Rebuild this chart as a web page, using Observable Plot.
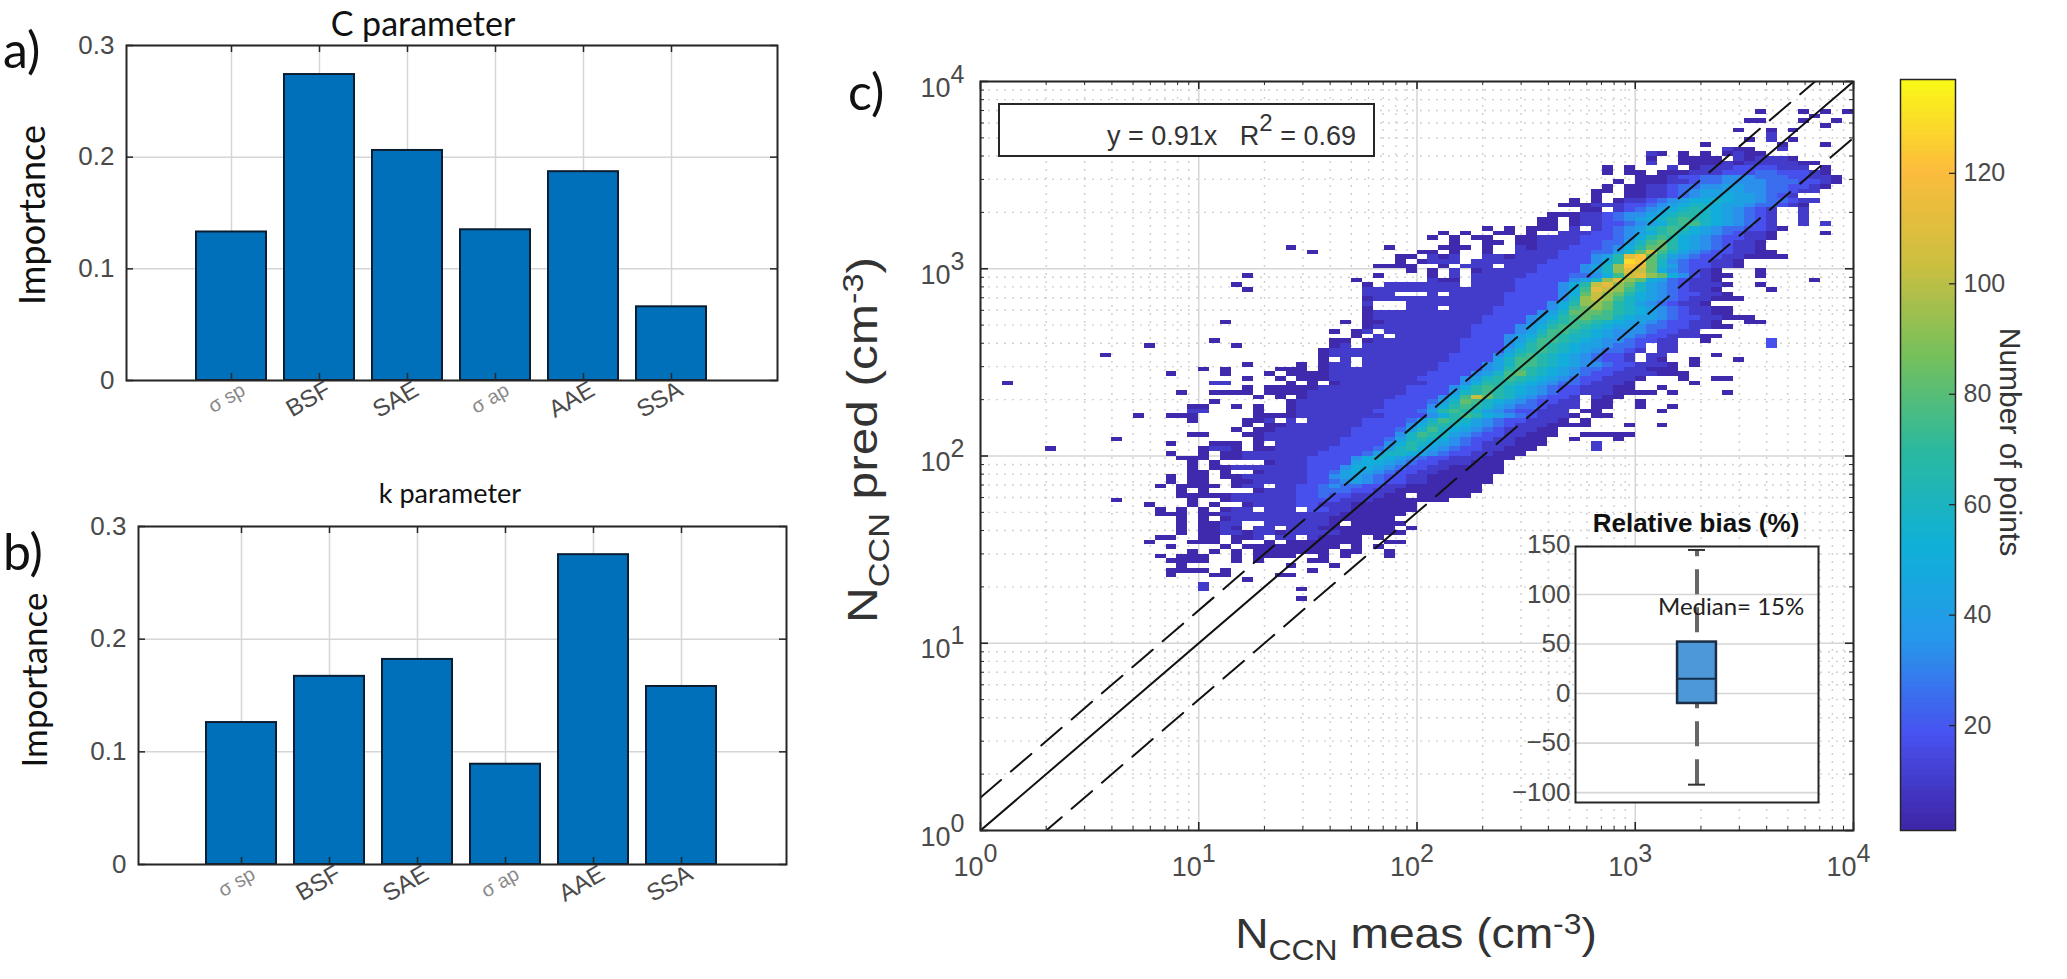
<!DOCTYPE html>
<html>
<head>
<meta charset="utf-8">
<script src="https://cdn.jsdelivr.net/npm/d3@7"></script>
<script src="https://cdn.jsdelivr.net/npm/@observablehq/plot@0.6"></script>
<style>
html,body{margin:0;padding:0;background:#fff;}
#page{position:relative;width:2067px;height:979px;overflow:hidden;background:#fff;}
#page svg{position:absolute;max-width:none;}
</style>
</head>
<body>
<div id="page"></div>
<script>
// ---------- panel a / b data ----------
const predictors = ["σ sp", "BSF", "SAE", "σ ap", "AAE", "SSA"];
const importanceC = [0.133, 0.274, 0.206, 0.135, 0.187, 0.066];
const importanceK = [0.126, 0.167, 0.182, 0.089, 0.275, 0.158];
const importanceTicks = [0, 0.1, 0.2, 0.3];

// ---------- panel c data ----------
const decades = [1, 10, 100, 1000, 10000];
const decadeExponents = ["0", "1", "2", "3", "4"];
const minorMultipliers = [2, 3, 4, 5, 6, 7, 8, 9];
const lineEnds = [1, 10000];
const upperFactor = 1.5;
const lowerFactor = 0.5;
const binsPerDecadeX = 20;
const binsPerDecadeY = 40;
// counts for the characters used in heatRows (index = base-17 digit)
const levelCounts = [0, 2, 9, 17, 25, 33, 42, 50, 58, 66, 74, 82, 92, 102, 112, 122, 128];
// [row bin, first column bin, counts read along the row; "." = empty]
const heatRows = [
[153,71,"1...1.1.1"],[152,76,"1"],[151,70,"11...1..1"],[150,77,"1"],[149,69,"1..1.1"],[148,72,"2"],
[147,70,"1.2.1"],[146,66,"1......1...1"],[145,68,"211..2"],[144,61,"21.1.1.1211"],[143,61,"1..1111.212221"],
[142,61,"2..1111212222211"],[141,57,"1.1...2.12223333222.1"],[140,57,"1.11.1112223334433321"],
[139,60,"1112334455544433221"],[138,58,"1.1112234455554443321"],[137,57,"1.1122344556655443321"],
[136,56,"11.112234566665544322"],[135,56,"1..1122345667665432"],[134,54,"1.1.1223456778766544322"],
[133,53,"11122233456788766544321"],[132,53,"..11.234567898765432..2"],[131,52,"111223455678998765432..2"],
[130,51,"11.1223456789a98765432..2"],[129,51,"11.1223345679aa8765432..2.2"],[128,46,"1.1.111.2.2345689a9765443321"],
[127,42,"1.1..11.1..2223345679a876543221....1"],[126,41,"1.1.11..1122223334579a9765433221"],
[125,43,"1..11.112222334468ab976543221"],[124,42,"111.1..212223334579bb976543221"],[124,28,"1"],[124,37,"1"],
[123,40,"11.1..1..22223334468bda8654332211"],[123,30,"1"],[122,38,"11.212..221222233 3569efb9654332 21111".replace(/ /g,"")],
[121,38,"1.1222.22222223333 579gfb8543 3221".replace(/ /g,"")],[120,38,"11..1.222.222333 3568cfeb864 33221".replace(/ /g,"")],[120,36,"11"],
[119,39,"1.1.2.122222333 3568cedb754 321...1".replace(/ /g,"")],[118,41,"1.2.222223333 4457adecb753 211..1".replace(/ /g,"")],[118,24,"1"],[118,36,"1"],
[117,41,"211.222233333 568cecb764 3221........1".replace(/ /g,"")],[117,34,"1"],
[116,35,"1.2222222.22223333 579decb865 432221..1".replace(/ /g,"")],[116,23,"1"],
[115,35,"22222222222222 3333 57aedca865 43221....1".replace(/ /g,"")],[115,24,"1"],
[114,35,"222...2.222223333 3 57bdcb9765 433221".replace(/ /g,"")],
[113,35,"122222222222233333 58cdca8765 4322111".replace(/ /g,"")],
[112,35,"2...222222222 3333 579ccb9865 43221".replace(/ /g,"")],
[111,35,"1...222.222233333 57abcb9876 5432211".replace(/ /g,"")],
[110,35,"122222222222 3333 568bbba987 6543221 1".replace(/ /g,"")],
[109,35,"12222222222 3333 5679abaa87 66543322111".replace(/ /g,"")],
[108,33,"1.11222222222 3333 5689aa9876 65433221..11".replace(/ /g,"")],[108,22,"1"],
[107,35,"1222222222 3333 5679aa9876 6544332211".replace(/ /g,"")],
[106,32,"1.12.22222222 3333 568aa98765 5543322".replace(/ /g,"")],
[105,34,"1.2.2222222 333 5679a98876 5543322211".replace(/ /g,"")],
[104,32,"11.122222222 3333 568aa98765 543322..1.....3".replace(/ /g,"")],[104,21,"1"],
[103,32,"12.222222222 3333 579a987665 443.22........3".replace(/ /g,"")],[103,15,"1"],[103,23,"1"],
[102,31,"1222222222222 3333 689a987654 432.22".replace(/ /g,"")],
[101,31,"122222222222 3333 579a987654 332.22....1".replace(/ /g,"")],[101,11,"1"],
[100,31,"1.2.22222222 3333 68aa987654 332.21..1...1".replace(/ /g,"")],
[99,24,"1....1.122.2222222 3333 568aa98765 54332221.1".replace(/ /g,"")],
[98,20,"1.1....111.12222222222 3333 569a987654 43322111".replace(/ /g,"")],
[97,17,"1....1...1.1111222222222 3333 568ab98765 4332222111".replace(/ /g,"")],
[96,24,"1..1.1"],[96,30,"1122222222 3333 5689a98765 4332221...1..11".replace(/ /g,"")],
[95,2,"1"],[95,21,"22.....1.1.12222222 2333 5799987654 432221.....1".replace(/ /g,"")],
[94,24,"1.11111222222223 333 579a987654 3322211..1".replace(/ /g,"")],
[93,18,"1..1111.1111222222222 3333 689a987654 332221111.1....1".replace(/ /g,"")],
[92,25,"1.1.122222222 3333 57adb98654 332.211".replace(/ /g,"")],
[91,21,"1"],[91,28,"1222222223333468ba876543322.11..1"],
[90,19,"11..1.1..1222222223333579a9865443222.11..1..1"],
[89,19,"22....1..122222223333469a9865433222.11.....1"],
[88,14,"1..111.....1111222222223333579a9765432221.11"],
[87,19,"1....112.2.222223333468a98654332221.1"],
[86,24,"1.112222222333357998765432221111...1..1"],
[85,23,"1.1122222223333468a87654322211"],
[84,19,"11...1122222222333358a986543322111..11111"],
[83,12,"1"],[83,25,"122222223333468987543322111..1...1"],
[82,17,"1...111.1.2222223333579876543222111....2"],
[81,6,"1"],[81,20,"1221.11222223333468976543322111.....2"],
[80,17,"1..1.1122222223333468876543322111"],
[79,18,"111.112222223333578765433222111"],
[78,19,"1.1"],[78,26,"1222333367765433222111"],
[77,19,"1.112222222333577654332211111"],
[76,19,"11.1..12222334676543322111111"],
[75,17,"1.11.1122222233566543322111111"],
[74,17,"1.11..112222233456543322111111"],
[73,16,"1.1111.122.2233454433221111111"],
[72,18,"1.1"],[72,25,"122233444332211111111"],
[71,18,"111"],[71,21,"112222223343322211.11111"],
[70,12,"1"],[70,19,"1"],[70,22,"122222233332221111111"],
[69,15,"1...1.1"],[69,24,"1222233222111111"],
[68,16,"1.1.1.122.222.3322111111"],
[67,16,"111.1122222222222111111"],
[66,18,"1.1.1222222222111111"],
[65,18,"1.1122..2222221.11111"],
[64,18,"1.1121.22.2221111111.1"],
[63,18,"1.1122122122222111111"],
[62,16,"11..11.112.22.21111.1"],
[61,15,"1...111.1..1.1111111..11"],
[60,17,"1....1.111111111.1.1"],
[59,19,"1.1.1.1111111.11..1"],
[58,16,"1.111..1.1111..1.1...1"],
[57,17,"1111..1.1....11"],
[56,18,"1.........1...1"],
[55,17,"1111.1.......1"],
[54,17,"1...11....11"],
[53,24,"1"],[52,20,"2"],[51,20,"2"],[51,29,"1"],[49,29,"1"]
];
const parulaStops = [1, 18, 35, 52, 69, 86, 103, 120, 137];
const parulaColors = ["#3e26a8","#4852f0","#2797eb","#0fb0d8","#2ab9a0","#73c05c","#ccbf40","#fcbc3c","#f9fb15"];
const colorbarTicks = [20, 40, 60, 80, 100, 120];

// ---------- inset data ----------
const biasTicks = [-100, -50, 0, 50, 100, 150];
const biasDomain = [-110, 148.5];
const whiskerLow = -92, whiskerHigh = 145;
const boxLow = -10, boxHigh = 52, boxMedian = 15;

// ---------- helpers ----------
const page = document.getElementById("page");
function place(svg, left, top) {
  svg.style.left = left + "px";
  svg.style.top = top + "px";
  page.appendChild(svg);
}
const arial = "'Liberation Sans', Arial, sans-serif";
const textGrey = "#4a4a4a";
const frameColor = "#262626";
const gridColor = "#d6d6d6";

function barPanel(values, frame, rangeCenter, left, top) {
  const W = 800, H = frame.bottom + 60;
  const frameH = frame.bottom - frame.top;
  const frameW = frame.right - frame.left;
  const big = ["BSF","SAE","AAE","SSA"], small = ["σ sp","σ ap"];
  const svg = Plot.plot({
    width: W, height: H,
    marginLeft: frame.left, marginRight: W - frame.right, marginTop: frame.top, marginBottom: H - frame.bottom,
    style: {background: "transparent", overflow: "visible", fontFamily: arial},
    x: {type: "band", domain: predictors, range: [rangeCenter - 44, rangeCenter + 484], padding: 0.2, paddingOuter: 0.1, axis: null},
    y: {domain: [0, 0.3], axis: null},
    marks: [
      Plot.gridX(predictors, {stroke: gridColor, strokeOpacity: 1, strokeWidth: 1.5}),
      Plot.gridY(importanceTicks, {stroke: gridColor, strokeOpacity: 1, strokeWidth: 1.5}),
      Plot.barY(values, {x: (d, i) => predictors[i], y: d => d, fill: "#0070ba", stroke: "#0a1e33", strokeWidth: 2}),
      Plot.axisY(importanceTicks, {anchor: "left", tickSize: 0, tickPadding: 12, label: null, fontSize: 26, fill: textGrey, tickFormat: d => d === 0 ? "0" : d3.format(".1f")(d)}),
      Plot.tickY(importanceTicks, {y: d => d, insetRight: frameW - 7, stroke: frameColor, strokeWidth: 1.5}),
      Plot.tickY(importanceTicks, {y: d => d, insetLeft: frameW - 7, stroke: frameColor, strokeWidth: 1.5}),
      Plot.tickX(predictors, {x: d => d, insetBottom: frameH - 7, stroke: frameColor, strokeWidth: 1.5}),
      Plot.tickX(predictors, {x: d => d, insetTop: frameH - 7, stroke: frameColor, strokeWidth: 1.5}),
      Plot.axisX(big, {anchor: "bottom", tickSize: 0, tickPadding: 8, tickRotate: -30, label: null, fontSize: 24, fill: textGrey, dx: 9, dy: -1}),
      Plot.axisX(small, {anchor: "bottom", tickSize: 0, tickPadding: 8, tickRotate: -30, label: null, fontSize: 20, fill: "#8a8a8a", dx: 12, dy: 0}),
      Plot.frame({stroke: frameColor, strokeWidth: 2})
    ]
  });
  place(svg, left, top);
}

// panel a and b
barPanel(importanceC, {left: 126, right: 777, top: 45, bottom: 380}, 231, 0, 0);
barPanel(importanceK, {left: 138, right: 786, top: 56, bottom: 394}, 241, 0, 470);

// ---------- panel c ----------
const cells = heatRows.flatMap(([row, col, counts]) =>
  Array.from(counts).flatMap((ch, k) => ch === "." ? [] : [{
    x1: 10 ** ((col + k) / binsPerDecadeX), x2: 10 ** ((col + k + 1) / binsPerDecadeX),
    y1: 10 ** (row / binsPerDecadeY), y2: 10 ** ((row + 1) / binsPerDecadeY),
    count: levelCounts[parseInt(ch, 17)]
  }])
);
const minorValues = decades.slice(0, -1).flatMap(d => minorMultipliers.map(m => d * m));
const cFrame = {left: 120, right: 993, top: 81, bottom: 830};
const cW = cFrame.right - cFrame.left, cH = cFrame.bottom - cFrame.top;
const colorScale = {type: "linear", domain: parulaStops, range: parulaColors};
const c = Plot.plot({
  width: 1010, height: 979,
  marginLeft: cFrame.left, marginRight: 1010 - cFrame.right, marginTop: cFrame.top, marginBottom: 979 - cFrame.bottom,
  style: {background: "transparent", overflow: "visible", fontFamily: arial},
  x: {type: "log", domain: [1, 10000], axis: null},
  y: {type: "log", domain: [1, 10000], axis: null},
  color: colorScale,
  marks: [
    Plot.ruleX(minorValues, {x: d => d, stroke: "#cfcfcf", strokeWidth: 1.4, strokeDasharray: "2,6"}),
    Plot.ruleY(minorValues, {y: d => d, stroke: "#cfcfcf", strokeWidth: 1.4, strokeDasharray: "2,6"}),
    Plot.ruleX(decades, {x: d => d, stroke: gridColor, strokeWidth: 1.5}),
    Plot.ruleY(decades, {y: d => d, stroke: gridColor, strokeWidth: 1.5}),
    Plot.rect(cells, {x1: "x1", x2: "x2", y1: "y1", y2: "y2", fill: "count", shapeRendering: "crispEdges"}),
    Plot.line(lineEnds, {x: d => d, y: d => d, stroke: "#111", strokeWidth: 2, clip: true}),
    Plot.line(lineEnds, {x: d => d, y: d => d * upperFactor, stroke: "#111", strokeWidth: 2, strokeDasharray: "27,13", clip: true}),
    Plot.line(lineEnds, {x: d => d, y: d => d * lowerFactor, stroke: "#111", strokeWidth: 2, strokeDasharray: "27,13", clip: true}),
    Plot.tickX(decades, {x: d => d, insetTop: cH - 8, stroke: frameColor, strokeWidth: 1.6}),
    Plot.tickX(decades, {x: d => d, insetBottom: cH - 8, stroke: frameColor, strokeWidth: 1.6}),
    Plot.tickX(minorValues, {x: d => d, insetTop: cH - 4, stroke: frameColor, strokeWidth: 1}),
    Plot.tickX(minorValues, {x: d => d, insetBottom: cH - 4, stroke: frameColor, strokeWidth: 1}),
    Plot.tickY(decades, {y: d => d, insetRight: cW - 8, stroke: frameColor, strokeWidth: 1.6}),
    Plot.tickY(decades, {y: d => d, insetLeft: cW - 8, stroke: frameColor, strokeWidth: 1.6}),
    Plot.tickY(minorValues, {y: d => d, insetRight: cW - 4, stroke: frameColor, strokeWidth: 1}),
    Plot.tickY(minorValues, {y: d => d, insetLeft: cW - 4, stroke: frameColor, strokeWidth: 1}),
    Plot.text(decades, {y: d => d, text: () => "10", frameAnchor: "left", textAnchor: "end", lineAnchor: "bottom", dx: -30, dy: 15, fontSize: 27, fill: textGrey}),
    Plot.text(decades, {y: d => d, text: (d, i) => decadeExponents[i], frameAnchor: "left", textAnchor: "start", lineAnchor: "bottom", dx: -30, dy: 1, fontSize: 25, fill: textGrey}),
    Plot.text(decades, {x: d => d, text: () => "10", frameAnchor: "bottom", textAnchor: "end", lineAnchor: "bottom", dx: 3, dy: 45, fontSize: 27, fill: textGrey}),
    Plot.text(decades, {x: d => d, text: (d, i) => decadeExponents[i], frameAnchor: "bottom", textAnchor: "start", lineAnchor: "bottom", dx: 3, dy: 31, fontSize: 25, fill: textGrey}),
    Plot.frame({stroke: frameColor, strokeWidth: 2})
  ]
});
place(c, 860, 0);

// ---------- inset ----------
const inset = Plot.plot({
  width: 340, height: 320,
  marginLeft: 75, marginRight: 22, marginTop: 46, marginBottom: 18,
  style: {background: "transparent", overflow: "visible", fontFamily: arial},
  x: {domain: [0, 2], axis: null},
  y: {domain: biasDomain, axis: null},
  marks: [
    Plot.frame({fill: "#fff", stroke: "none"}),
    Plot.ruleY(biasTicks.slice(0, -1), {y: d => d, stroke: gridColor, strokeWidth: 1.6}),
    Plot.ruleX([1], {x: d => d, y1: whiskerLow, y2: whiskerHigh, stroke: "#666", strokeWidth: 4, strokeDasharray: "25,13"}),
    Plot.ruleY([whiskerLow, whiskerHigh], {y: d => d, x1: 0.93, x2: 1.07, stroke: "#333", strokeWidth: 2}),
    Plot.rect([boxMedian], {x1: 0.84, x2: 1.16, y1: boxLow, y2: boxHigh, fill: "#4d98d8", stroke: "#1c2c44", strokeWidth: 2.5}),
    Plot.ruleY([boxMedian], {y: d => d, x1: 0.84, x2: 1.16, stroke: "#14304e", strokeWidth: 2}),
    Plot.axisY(biasTicks, {anchor: "left", tickSize: 0, tickPadding: 5, label: null, fontSize: 26, fill: textGrey}),
    Plot.frame({stroke: frameColor, strokeWidth: 2})
  ]
});
place(inset, 1500, 500);

// ---------- colour bar ----------
const colorLevels = d3.range(1, 137);
const bar = Plot.plot({
  width: 187, height: 979,
  marginLeft: 20, marginRight: 112, marginTop: 79, marginBottom: 149,
  style: {background: "transparent", overflow: "visible", fontFamily: arial},
  x: {domain: [0, 1], axis: null},
  y: {domain: [1, 137], axis: null},
  color: colorScale,
  marks: [
    Plot.rect(colorLevels, {x1: 0, x2: 1, y1: d => d, y2: d => d + 1, fill: d => d, shapeRendering: "crispEdges"}),
    Plot.tickY(colorbarTicks, {y: d => d, insetLeft: 49, stroke: frameColor, strokeWidth: 1.3}),
    Plot.axisY(colorbarTicks, {anchor: "right", tickSize: 0, tickPadding: 8, label: null, fontSize: 25, fill: textGrey}),
    Plot.frame({stroke: frameColor, strokeWidth: 1.5})
  ]
});
place(bar, 1880, 0);

// ---------- annotations ----------
const over = d3.select(page).append("svg")
  .attr("width", 2067).attr("height", 979)
  .style("left", "0px").style("top", "0px").style("pointer-events", "none");
const calibri = "Lato, 'Open Sans', sans-serif";
function label(x, y, parts, opts = {}) {
  const t = over.append("text")
    .attr("x", x).attr("y", y)
    .attr("font-family", opts.family || calibri)
    .attr("font-size", opts.size || 30)
    .attr("font-weight", opts.weight || "normal")
    .attr("fill", opts.fill || "#111")
    .attr("text-anchor", opts.anchor || "start");
  if (opts.rotate !== undefined || opts.sx) {
    t.attr("transform", `translate(${x} ${y}) rotate(${opts.rotate || 0}) scale(${opts.sx || 1} 1) translate(${-x} ${-y})`);
  }
  for (const p of [].concat(parts)) {
    const piece = typeof p === "string" ? {t: p} : p;
    const s = t.append("tspan").text(piece.t);
    if (piece.dy) s.attr("dy", piece.dy);
    if (piece.size) s.attr("font-size", piece.size);
  }
  return t;
}
label(3, 68, "a)", {size: 50});
label(3, 570, "b)", {size: 50});
label(848, 110, "c)", {size: 50});
label(423, 36, "C parameter", {size: 34, anchor: "middle"});
label(450, 503, "k parameter", {size: 27, anchor: "middle"});
label(45, 215, "Importance", {size: 36, anchor: "middle", rotate: -90});
label(47, 680, "Importance", {size: 35, anchor: "middle", rotate: -90});

const ylab = [{t: "N"}, {t: "CCN", dy: 12, size: 29}, {t: " pred (cm", dy: -12}, {t: "-3", dy: -14, size: 29}, {t: ")", dy: 14}];
label(877, 440, ylab, {family: arial, size: 42, anchor: "middle", rotate: -90, fill: "#333", sx: 1.18});
const xlab = [{t: "N"}, {t: "CCN", dy: 12, size: 29}, {t: " meas (cm", dy: -12}, {t: "-3", dy: -14, size: 29}, {t: ")", dy: 14}];
label(1416, 948, xlab, {family: arial, size: 42, anchor: "middle", fill: "#333", sx: 1.1});

over.append("rect").attr("x", 999).attr("y", 104).attr("width", 375).attr("height", 52)
  .attr("fill", "#fff").attr("stroke", frameColor).attr("stroke-width", 2);
label(1107, 145, [{t: "y = 0.91x\u00a0\u00a0\u00a0R"}, {t: "2", dy: -14, size: 24}, {t: " = 0.69", dy: 14}], {family: arial, size: 27, fill: "#333"});

label(1696, 532, "Relative bias (%)", {family: arial, size: 26, weight: "bold", anchor: "middle", fill: "#111"});
label(1658, 615, "Median= 15%", {size: 24, fill: "#222"});
label(2000, 442, "Number of points", {family: arial, size: 30, anchor: "middle", rotate: 90, fill: "#333"});
</script>
</body>
</html>
